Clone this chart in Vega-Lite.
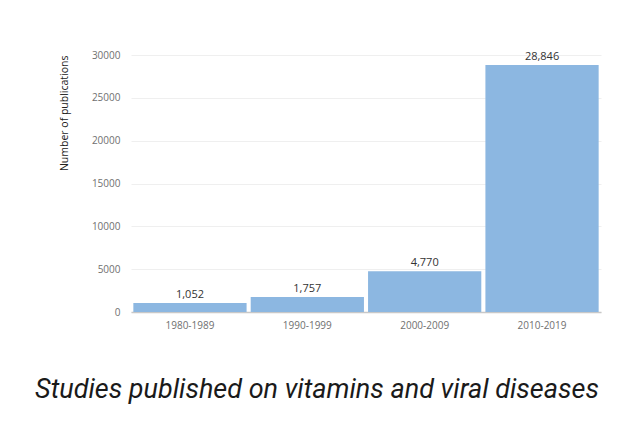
{
  "$schema": "https://vega.github.io/schema/vega-lite/v6.json",
  "autosize": {"type": "none"},
  "padding": {"left": 131, "top": 55, "right": 32, "bottom": 116},
  "width": 470,
  "height": 257,
  "background": "white",
  "data": {
    "values": [
      {"decade": "1980-1989", "count": 1052},
      {"decade": "1990-1999", "count": 1757},
      {"decade": "2000-2009", "count": 4770},
      {"decade": "2010-2019", "count": 28846}
    ]
  },
  "title": {
    "text": "Studies published on vitamins and viral diseases",
    "orient": "bottom",
    "anchor": "middle",
    "font": "Roboto",
    "fontStyle": "italic",
    "fontWeight": "normal",
    "fontSize": 27,
    "color": "#1a1a1a",
    "offset": 47,
    "dx": -49
  },
  "encoding": {
    "x": {
      "field": "decade",
      "type": "nominal",
      "sort": null,
      "scale": {"paddingInner": 0.035, "paddingOuter": 0.02},
      "axis": {
        "title": null,
        "labelAngle": 0,
        "ticks": false,
        "labelPadding": 8,
        "labelFont": "Open Sans",
        "labelFontSize": 10,
        "labelColor": "#707070",
        "domainColor": "#c8c8c8",
        "domainWidth": 1.5
      }
    },
    "y": {
      "field": "count",
      "type": "quantitative",
      "scale": {"domain": [0, 30000], "nice": false},
      "axis": {
        "title": "Number of publications",
        "titleAnchor": "end",
        "titleFont": "Open Sans",
        "titleFontSize": 10.5,
        "titleFontWeight": "normal",
        "titleColor": "#222222",
        "titlePadding": 22,
        "values": [0, 5000, 10000, 15000, 20000, 25000, 30000],
        "format": "d",
        "ticks": false,
        "domain": false,
        "labelPadding": 11,
        "labelFont": "Open Sans",
        "labelFontSize": 10,
        "labelColor": "#707070",
        "gridColor": "#efefef",
        "gridWidth": 1
      }
    }
  },
  "layer": [
    {"mark": {"type": "bar", "color": "#8cb7e1"}},
    {
      "mark": {"type": "text", "baseline": "bottom", "dy": -3, "font": "Open Sans", "fontSize": 11, "color": "#333333"},
      "encoding": {"text": {"field": "count", "type": "quantitative", "format": ","}}
    }
  ],
  "config": {"view": {"stroke": null}}
}
